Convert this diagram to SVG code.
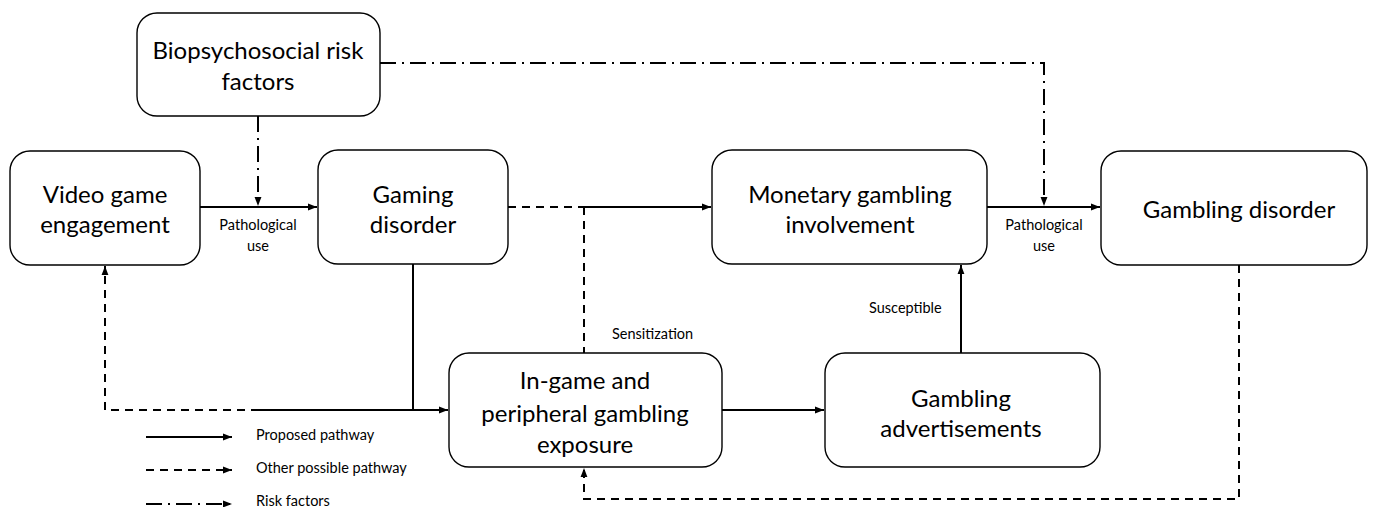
<svg xmlns="http://www.w3.org/2000/svg" width="1376" height="507" viewBox="0 0 1376 507">
<style>
.box{fill:#fff;stroke:#000;stroke-width:1.4}
.t{font-family:Lato,"Open Sans",sans-serif;font-size:24px;fill:#000;text-anchor:middle;dominant-baseline:central}
.s{font-family:Lato,"Open Sans",sans-serif;font-size:14.5px;fill:#000;dominant-baseline:central}
.c{text-anchor:middle}
.solid{fill:none;stroke:#000;stroke-width:2}
.dash{fill:none;stroke:#000;stroke-width:2;stroke-dasharray:8 6}
.dd{fill:none;stroke:#000;stroke-width:2;stroke-dasharray:16 6 2 6}
</style>
<defs>
<marker id="ah" viewBox="0 0 10 10" refX="10" refY="5" markerWidth="4.5" markerHeight="4.5" orient="auto" markerUnits="strokeWidth">
<path d="M0,1.2 L10,5 L0,8.8 z" fill="#000"/>
</marker>
</defs>
<g id="connectors">
<path class="solid" d="M200,207 H317" marker-end="url(#ah)"/>
<path class="dd" d="M258,116 V206" marker-end="url(#ah)"/>
<path class="dd" d="M380,63 H1044 V206" marker-end="url(#ah)"/>
<path class="dash" d="M508,207 H584"/>
<path class="solid" d="M584,207 H711" marker-end="url(#ah)"/>
<path class="dash" d="M584,207 V353"/>
<path class="solid" d="M987,207 H1100" marker-end="url(#ah)"/>
<path class="solid" d="M413,264 V410"/>
<path class="solid" d="M259,410 H448" marker-end="url(#ah)"/>
<path class="dash" d="M259,410 H105 V266" marker-end="url(#ah)"/>
<path class="solid" d="M722,410 H824" marker-end="url(#ah)"/>
<path class="solid" d="M961,353 V265" marker-end="url(#ah)"/>
<path class="dash" d="M1239,265 V499 H584 V468" marker-end="url(#ah)"/>
<path class="solid" d="M146,437 H232" marker-end="url(#ah)"/>
<path class="dash" d="M146,470 H232" marker-end="url(#ah)"/>
<path class="dd" d="M146,504 H232" marker-end="url(#ah)"/>
</g>
<g id="labels">
<text class="s c" x="258" y="224">Pathological</text>
<text class="s c" x="258" y="245">use</text>
<text class="s c" x="1044" y="224">Pathological</text>
<text class="s c" x="1044" y="245">use</text>
<text class="s" x="612" y="333">Sensitization</text>
<text class="s" x="869" y="307">Susceptible</text>
<text class="s" x="256" y="434">Proposed pathway</text>
<text class="s" x="256" y="467">Other possible pathway</text>
<text class="s" x="256" y="500">Risk factors</text>
</g>
<g id="bio">
<rect class="box" x="137" y="13" width="243" height="103" rx="20"/>
<text class="t" x="258" y="49">Biopsychosocial risk</text>
<text class="t" x="258" y="80">factors</text>
</g>
<g id="video">
<rect class="box" x="10" y="151" width="190" height="114" rx="20"/>
<text class="t" x="105" y="193">Video game</text>
<text class="t" x="105" y="223">engagement</text>
</g>
<g id="gaming">
<rect class="box" x="318" y="150" width="190" height="114" rx="20"/>
<text class="t" x="413" y="193">Gaming</text>
<text class="t" x="413" y="223">disorder</text>
</g>
<g id="monetary">
<rect class="box" x="712" y="150" width="275" height="114" rx="20"/>
<text class="t" x="850" y="193">Monetary gambling</text>
<text class="t" x="850" y="223">involvement</text>
</g>
<g id="gamblingdisorder">
<rect class="box" x="1101" y="151" width="266" height="114" rx="20"/>
<text class="t" x="1239" y="208">Gambling disorder</text>
</g>
<g id="ingame">
<rect class="box" x="449" y="353" width="273" height="114" rx="20"/>
<text class="t" x="585" y="379">In-game and</text>
<text class="t" x="585" y="412">peripheral gambling</text>
<text class="t" x="585" y="443">exposure</text>
</g>
<g id="ads">
<rect class="box" x="825" y="353" width="275" height="114" rx="20"/>
<text class="t" x="961" y="397">Gambling</text>
<text class="t" x="961" y="427">advertisements</text>
</g>
</svg>
